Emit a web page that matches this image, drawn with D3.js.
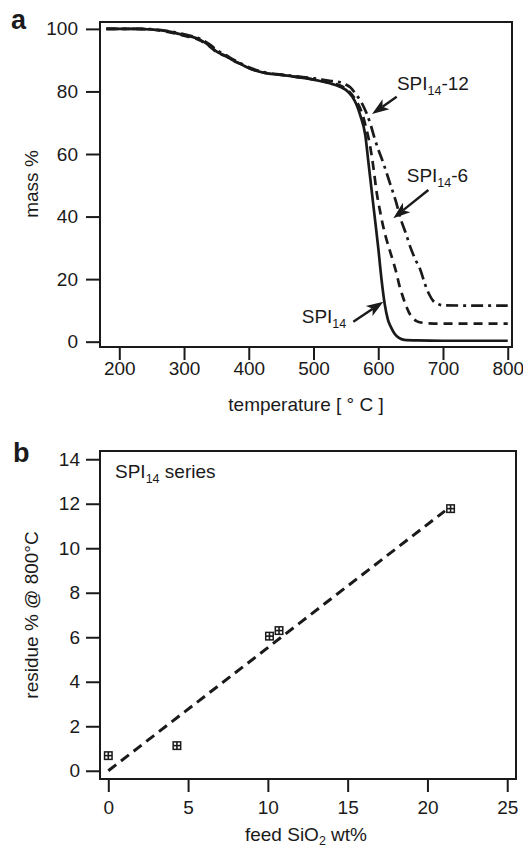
<!DOCTYPE html>
<html>
<head>
<meta charset="utf-8">
<script src="https://cdn.jsdelivr.net/npm/d3@7"></script>
<style>
  body { margin: 0; background: #fff; }
  svg { display: block; font-family: "Liberation Sans", Arial, Helvetica, sans-serif; }
</style>
</head>
<body>
<div id="chart"></div>
<script>
// panel a: TGA curves
var tempSPI14 = [180, 225, 250, 275, 300, 325, 340, 350, 365, 375, 390, 400, 425, 450, 475, 500, 525, 540, 550, 560, 567, 572, 580, 585, 590, 595, 600, 605, 610, 615, 620, 625, 632, 640, 660, 700, 800];
var massSPI14 = [100, 100, 99.8, 99.2, 98, 96.5, 94.5, 92.8, 91.3, 90, 88.5, 87.5, 85.9, 85.3, 84.6, 83.8, 82.6, 81.6, 80.5, 78.3, 75.5, 72.5, 66, 57, 48, 39, 30, 20, 12, 7, 4.5, 2.6, 1.2, 0.6, 0.4, 0.3, 0.3];

var tempSPI14_6 = [180, 225, 250, 275, 300, 325, 340, 350, 365, 375, 390, 400, 425, 450, 475, 500, 525, 540, 555, 565, 575, 582, 587, 593, 597, 603, 608, 613, 618, 624, 628, 632, 637, 642, 647, 653, 660, 670, 685, 800];
var massSPI14_6 = [100, 100, 99.8, 99.0, 97.8, 96.3, 94.3, 92.6, 91.2, 90, 88.5, 87.5, 85.9, 85.3, 84.6, 83.8, 82.8, 82, 80, 77.3, 73, 67.7, 63, 55, 48.5, 41.5, 36.5, 32.5, 29, 25, 22, 18.5, 15, 12, 9.5, 7.6, 6.5, 6, 5.8, 5.8];

var tempSPI14_12 = [180, 225, 250, 275, 300, 325, 340, 350, 365, 375, 390, 400, 425, 450, 475, 500, 525, 540, 550, 557, 565, 572, 582, 588, 595, 600, 608, 618, 627, 635, 642, 650, 658, 665, 672, 679, 685, 691, 700, 800];
var massSPI14_12 = [100, 100, 99.9, 99.3, 98.3, 96.8, 95, 93.3, 91.6, 90.3, 88.7, 87.7, 86.1, 85.4, 84.8, 84.2, 83.4, 83, 82.2, 81.3, 79.2, 77.2, 73, 69.5, 64.6, 61.5, 57, 50.7, 45, 39, 35, 30, 26, 23, 18.5, 15, 13, 12.2, 11.6, 11.5];

var tempTicks = [200, 300, 400, 500, 600, 700, 800];
var massTicks = [0, 20, 40, 60, 80, 100];

// panel b: residue vs feed silica
var feedSiO2 = [0, 4.3, 10.1, 10.7, 21.45];
var residue = [0.68, 1.13, 6.05, 6.3, 11.78];
var fitX = [0, 21.1];
var fitY = [0, 11.68];
var feedTicks = [0, 5, 10, 15, 20, 25];
var residueTicks = [0, 2, 4, 6, 8, 10, 12, 14];

(function () {
	var width = 523;
	var height = 848;
	var ink = "#1a1a1a";
	var fs = 19;

	var svg = d3.select("#chart")
	   .append("svg")
	   .attr("width", width)
	   .attr("height", height);

	/* ---------- panel a ---------- */
	var xa = d3.scaleLinear().domain([170.2, 806.6]).range([100, 512]);
	var ya = d3.scaleLinear().domain([-1.7, 102.2]).range([347, 22]);

	var ga = svg.append("g");

	ga.append("g")
	  .attr("transform", "translate(0,347)")
	  .call(d3.axisBottom(xa).tickValues(tempTicks).tickSize(13).tickPadding(2).tickSizeOuter(0))
	  .call(styleAxis);

	ga.append("g")
	  .attr("transform", "translate(100,0)")
	  .call(d3.axisLeft(ya).tickValues(massTicks).tickSize(14).tickPadding(8).tickSizeOuter(0))
	  .call(styleAxis);

	ga.append("rect")
	  .attr("x", 100).attr("y", 22)
	  .attr("width", 412).attr("height", 325)
	  .attr("fill", "none").attr("stroke", ink).attr("stroke-width", 2);

	var series = [
		{ t: tempSPI14, m: massSPI14, dash: null },
		{ t: tempSPI14_6, m: massSPI14_6, dash: "9,6" },
		{ t: tempSPI14_12, m: massSPI14_12, dash: "12,5,3,5" }
	];

	var line = d3.line()
	  .x(function (d) { return xa(d[0]); })
	  .y(function (d) { return ya(d[1]); })
	  .curve(d3.curveMonotoneX);

	series.forEach(function (s) {
		ga.append("path")
		  .datum(d3.zip(s.t, s.m))
		  .attr("d", line)
		  .attr("fill", "none")
		  .attr("stroke", ink)
		  .attr("stroke-width", 2.7)
		  .attr("stroke-dasharray", s.dash);
	});

	// annotations (data units)
	var notes = [
		{ lx: 628.8, ly: 80.5, sub: "-12", tail: [628.5, 78.3], tip: [590.4, 72.8] },
		{ lx: 644, ly: 51.2, sub: "-6", tail: [677.4, 48.5], tip: [623.3, 39.5] },
		{ lx: 481.8, ly: 5.9, sub: "", tail: [561.5, 6.4], tip: [607.9, 12.8] }
	];

	notes.forEach(function (n) {
		spiLabel(ga, xa(n.lx), ya(n.ly), n.sub);
		arrow(ga, xa(n.tail[0]), ya(n.tail[1]), xa(n.tip[0]), ya(n.tip[1]));
	});

	ga.append("text")
	  .attr("x", 306).attr("y", 411)
	  .attr("text-anchor", "middle")
	  .attr("font-size", fs).attr("fill", ink)
	  .text("temperature [ \u00b0 C ]");

	ga.append("text")
	  .attr("transform", "translate(38,184) rotate(-90)")
	  .attr("text-anchor", "middle")
	  .attr("font-size", fs).attr("fill", ink)
	  .text("mass %");

	ga.append("text")
	  .attr("x", 11).attr("y", 29)
	  .attr("font-size", 27).attr("font-weight", "bold").attr("fill", ink)
	  .text("a");

	/* ---------- panel b ---------- */
	var xb = d3.scaleLinear().domain([-0.52, 25.55]).range([100, 516]);
	var yb = d3.scaleLinear().domain([-0.37, 14.37]).range([779, 451]);

	var gb = svg.append("g");

	gb.append("g")
	  .attr("transform", "translate(0,779)")
	  .call(d3.axisBottom(xb).tickValues(feedTicks).tickSize(13).tickPadding(9).tickSizeOuter(0))
	  .call(styleAxis);

	gb.append("g")
	  .attr("transform", "translate(100,0)")
	  .call(d3.axisLeft(yb).tickValues(residueTicks).tickSize(14).tickPadding(6).tickSizeOuter(0))
	  .call(styleAxis);

	gb.append("rect")
	  .attr("x", 100).attr("y", 451)
	  .attr("width", 416).attr("height", 328)
	  .attr("fill", "none").attr("stroke", ink).attr("stroke-width", 2);

	gb.append("path")
	  .datum(d3.zip(fitX, fitY))
	  .attr("d", d3.line().x(function (d) { return xb(d[0]); }).y(function (d) { return yb(d[1]); }))
	  .attr("fill", "none")
	  .attr("stroke", ink)
	  .attr("stroke-width", 3)
	  .attr("stroke-dasharray", "10,6");

	var pts = gb.selectAll(".pt")
	  .data(d3.zip(feedSiO2, residue))
	  .enter().append("g")
	  .attr("class", "pt")
	  .attr("transform", function (d) { return "translate(" + xb(d[0]) + "," + yb(d[1]) + ")"; });

	// dark square with four small light cells
	pts.append("rect")
	  .attr("x", -4.5).attr("y", -4.5).attr("width", 9).attr("height", 9)
	  .attr("fill", ink);
	pts.selectAll(".cell")
	  .data([[-3, -3], [0.8, -3], [-3, 0.8], [0.8, 0.8]])
	  .enter().append("rect")
	  .attr("x", function (c) { return c[0]; })
	  .attr("y", function (c) { return c[1]; })
	  .attr("width", 2.2).attr("height", 2.2)
	  .attr("fill", "#fff");

	spiLabel(gb, 115, 478, " series", true);

	var xl = gb.append("text")
	  .attr("x", 306).attr("y", 841)
	  .attr("text-anchor", "middle")
	  .attr("font-size", fs).attr("fill", ink);
	xl.append("tspan").text("feed SiO");
	xl.append("tspan").attr("font-size", 12.5).attr("dy", 4).text("2");
	xl.append("tspan").attr("dy", -4).text(" wt%");

	gb.append("text")
	  .attr("transform", "translate(38,615) rotate(-90)")
	  .attr("text-anchor", "middle")
	  .attr("font-size", fs).attr("fill", ink)
	  .text("residue % @ 800\u00b0C");

	gb.append("text")
	  .attr("x", 13).attr("y", 462)
	  .attr("font-size", 27).attr("font-weight", "bold").attr("fill", ink)
	  .text("b");

	/* ---------- helpers ---------- */
	function styleAxis(g) {
		g.select(".domain").remove();
		g.selectAll(".tick line").attr("stroke", ink).attr("stroke-width", 2);
		g.selectAll(".tick text")
		  .attr("font-size", fs)
		  .attr("font-family", "'Liberation Sans', Arial, Helvetica, sans-serif")
		  .attr("fill", ink);
	}

	function spiLabel(g, x, y, after) {
		var t = g.append("text")
		  .attr("x", x).attr("y", y)
		  .attr("font-size", fs).attr("fill", ink);
		t.append("tspan").text("SPI");
		t.append("tspan").attr("font-size", 12.5).attr("dy", 5).text("14");
		if (after) t.append("tspan").attr("dy", -5).text(after);
	}

	function arrow(g, x1, y1, x2, y2) {
		var dx = x2 - x1, dy = y2 - y1;
		var len = Math.sqrt(dx * dx + dy * dy);
		var ux = dx / len, uy = dy / len;
		var hl = 17, hw = 6;
		var bx = x2 - ux * hl, by = y2 - uy * hl;
		var nx = x2 - ux * hl * 0.75, ny = y2 - uy * hl * 0.75;
		g.append("line")
		  .attr("x1", x1).attr("y1", y1).attr("x2", nx).attr("y2", ny)
		  .attr("stroke", ink).attr("stroke-width", 2.4);
		g.append("path")
		  .attr("d", "M" + x2 + "," + y2 +
		    "L" + (bx - uy * hw) + "," + (by + ux * hw) +
		    "L" + nx + "," + ny +
		    "L" + (bx + uy * hw) + "," + (by - ux * hw) + "Z")
		  .attr("fill", ink);
	}
})();
</script>
</body>
</html>
